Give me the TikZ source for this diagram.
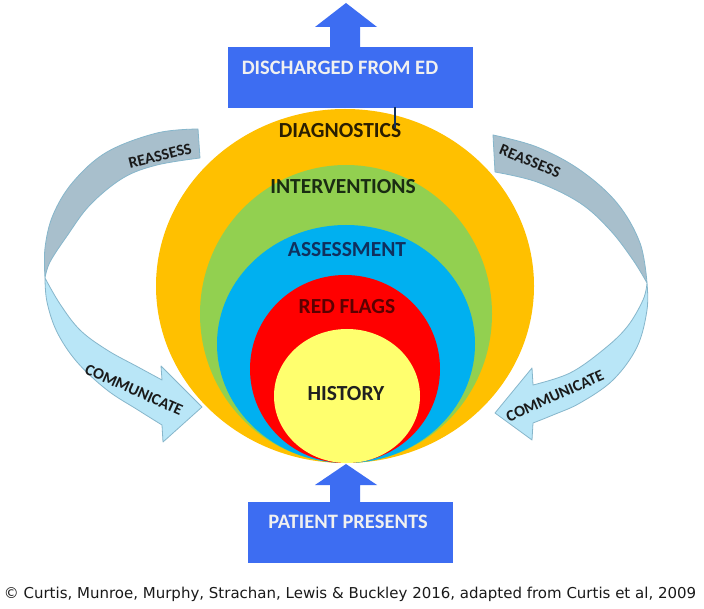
\documentclass[tikz,border=0pt]{standalone}
\usepackage{fontspec}
\setmainfont{Carlito}
\newfontfamily\capfont{DejaVu Sans}
\definecolor{ringorange}{HTML}{FFC000}
\definecolor{ringgreen}{HTML}{92D050}
\definecolor{ringblue}{HTML}{00B0F0}
\definecolor{ringred}{HTML}{FF0000}
\definecolor{ringyellow}{HTML}{FFFF6E}
\definecolor{boxblue}{HTML}{3D6DF2}
\definecolor{boxtext}{HTML}{F0F0F0}
\definecolor{backgray}{HTML}{A8BFCC}
\definecolor{frontblue}{HTML}{B9E6F7}
\definecolor{arrowedge}{HTML}{86B6CB}
\definecolor{txtdiag}{HTML}{2A1E00}
\definecolor{txtint}{HTML}{1A2C12}
\definecolor{txtass}{HTML}{10305E}
\definecolor{txtred}{HTML}{5C0000}
\definecolor{txthist}{HTML}{202020}
\definecolor{txtarrow}{HTML}{1A1A1A}
\begin{document}
\begin{tikzpicture}[x=1pt,y=-1pt,
  ringlabel/.style={font=\bfseries\fontsize{21.5}{24}\selectfont, inner sep=0pt},
  boxlabel/.style={font=\bfseries\fontsize{20.5}{24}\selectfont, text=boxtext, inner sep=0pt},
  arrowlabel/.style={font=\bfseries\fontsize{16}{19}\selectfont, text=txtarrow, inner sep=0pt},
  backband/.style={fill=backgray, draw=arrowedge, line width=0.8pt, line join=round},
  frontband/.style={fill=frontblue, draw=arrowedge, line width=0.8pt, line join=round},
  bluebox/.style={fill=boxblue, draw=none}]
\useasboundingbox (0,0) rectangle (704,609);
\fill[white] (0,0) rectangle (704,609);

% concentric rings
\fill[ringorange] (345,286) ellipse [x radius=189, y radius=177];
\fill[ringgreen]  (346,314) ellipse [x radius=146, y radius=149];
\fill[ringblue]   (346,344) ellipse [x radius=129, y radius=119];
\fill[ringred]    (345,369) ellipse [x radius=95,  y radius=94];
\fill[ringyellow] (347,396) ellipse [x radius=73,  y radius=67];

\node[ringlabel, text=txtdiag] (diag) at (340,131) {DIAGNOSTICS};
\node[ringlabel, text=txtint]  (interv) at (343,187) {INTERVENTIONS};
\node[ringlabel, text=txtass]  (assess) at (347,250) {ASSESSMENT};
\node[ringlabel, text=txtred]  (redflags) at (347,307) {RED FLAGS};
\node[ringlabel, text=txthist] (history) at (346,394) {HISTORY};

% top box with arrow
\fill[bluebox] (228,47) rectangle (473,108);
\fill[bluebox] (330,48) -- (330,27) -- (315,27) -- (346,3) -- (377,27) -- (360,27) -- (360,48) -- cycle;
\node[boxlabel] (discharged) at (340,68) {DISCHARGED FROM ED};
\coordinate (tickA) at (395,107);
\coordinate (tickB) at (395,128);
\draw[line width=1.6pt, color=txtass] (tickA) -- (tickB);

% bottom box with arrow
\fill[bluebox] (248,502) rectangle (453,563);
\fill[bluebox] (330,503) -- (330,485) -- (315,485) -- (346,464) -- (377,485) -- (360,485) -- (360,503) -- cycle;
\node[boxlabel] (presents) at (348,522) {PATIENT PRESENTS};

% left curved arrow
\path[backband] plot[smooth, tension=0.6] coordinates {(198,129) (157,133) (107,152) (73,182) (53,215) (45,248) (45,278)}
  -- plot[smooth, tension=0.6] coordinates {(45,278) (50,262) (67,236) (90,205) (123,178) (157,165) (200,158)} -- cycle;
\path[frontband] plot[smooth, tension=0.6] coordinates {(45,278) (47,302) (57,332) (77,362) (107,390) (138,410) (162,425)}
  -- (163,442) -- (202,407) -- (161,366) -- (162,380)
  -- plot[smooth, tension=0.6] coordinates {(162,380) (138,367) (107,350) (80,330) (60,304) (45,278)} -- cycle;
\node[arrowlabel, rotate=14] (reassessL) at (160,156) {REASSESS};
\node[arrowlabel, rotate=-24] (communicateL) at (134,390) {COMMUNICATE};

% right curved arrow
\path[backband] plot[smooth, tension=0.6] coordinates {(493,135) (537,147) (580,170) (617,203) (640,243) (647,283)}
  -- plot[smooth, tension=0.6] coordinates {(647,283) (633,260) (610,230) (580,203) (537,182) (495,172)} -- cycle;
\path[frontband] plot[smooth, tension=0.6] coordinates {(647,283) (647,310) (637,347) (613,380) (580,403) (553,415) (533,423)}
  -- (532,440) -- (495,413) -- (532,368) -- (533,385)
  -- plot[smooth, tension=0.6] coordinates {(533,385) (570,373) (603,350) (627,327) (643,300) (647,283)} -- cycle;
\node[arrowlabel, rotate=-22] (reassessR) at (530,161) {REASSESS};
\node[arrowlabel, rotate=24] (communicateR) at (555,396) {COMMUNICATE};

% caption
\node[font=\capfont\fontsize{15}{18}\selectfont, text=txtarrow, inner sep=0pt] (caption) at (350,594)
  {© Curtis, Munroe, Murphy, Strachan, Lewis \& Buckley 2016, adapted from Curtis et al, 2009};
\end{tikzpicture}
\end{document}
